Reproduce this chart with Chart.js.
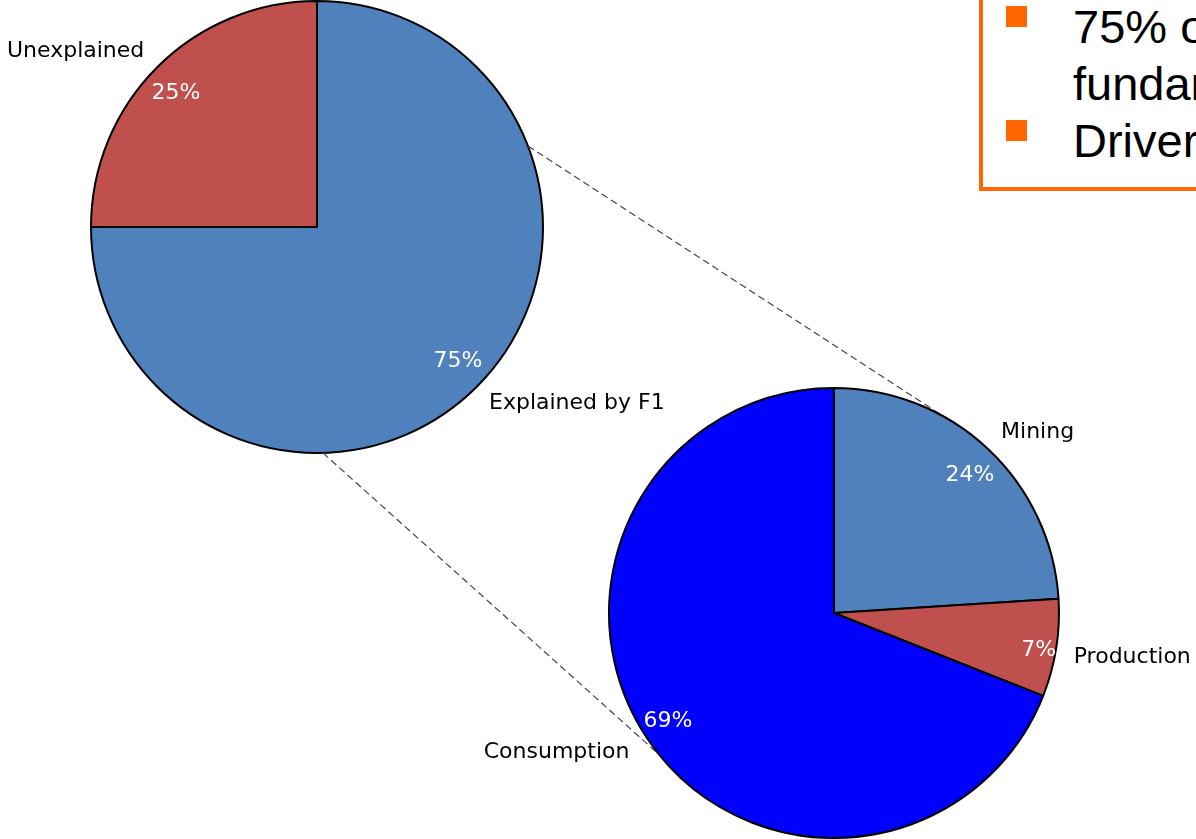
<!DOCTYPE html>
<html>
<head>
<meta charset="utf-8">
<script src="https://cdn.jsdelivr.net/npm/chart.js@4.4.0/dist/chart.umd.min.js"></script>
<style>
  html, body { margin: 0; padding: 0; background: #fff; }
  body { width: 1196px; height: 839px; overflow: hidden; position: relative; }
  canvas { position: absolute; left: 0; top: 0; }
  #note {
    position: absolute; left: 979px; top: -20px;
    width: 400px; height: 189px; padding-top: 14px;
    border: 4px solid #ff6600; background: #fff;
    font-family: "Liberation Sans", Arial, sans-serif; font-size: 47px;
    line-height: 57px; color: #000; white-space: nowrap;
  }
  #note .line { position: relative; padding-left: 90px; }
  #note .bullet { position: absolute; left: 23px; top: 8px; width: 21px; height: 21px; background: #ff6600; }
</style>
</head>
<body>
<canvas id="overviewChart" width="1196" height="839"></canvas>
<canvas id="breakdownChart" width="1196" height="839"></canvas>
<div id="note">
  <div class="line"><span class="bullet"></span>75% of price variation</div>
  <div class="line">fundamentals</div>
  <div class="line"><span class="bullet"></span>Drivers</div>
</div>
<script>
// Data
const overviewLabels = ["Explained by F1", "Unexplained"];
const overviewValues = [75, 25];
const breakdownLabels = ["Mining", "Production", "Consumption"];
const breakdownValues = [24, 7, 69];

const steelBlue = "#4f81bd";
const brickRed = "#c0504d";
const pureBlue = "#0000ff";
const labelFont = '22px "DejaVu Sans", sans-serif';

// label spots: [angle in degrees from 3 o'clock, fraction of radius]
const overviewPctSpots = [[43.5, 0.86], [-136.5, 0.86]];
const overviewNameSpots = [[34.2, 1.39], [-144, 1.32]];
const breakdownPctSpots = [[-45.4, 0.86], [10.4, 0.925], [147, 0.88]];
const breakdownNameSpots = [[-41.6, 1.21], [8.4, 1.34], [153.3, 1.38]];

function spot(arc, s) {
  const a = (s[0] * Math.PI) / 180;
  return { x: arc.x + Math.cos(a) * arc.outerRadius * s[1], y: arc.y + Math.sin(a) * arc.outerRadius * s[1] };
}

function labelPlugin(pctSpots, nameSpots) {
  return {
    id: "sliceLabels",
    afterDatasetsDraw(chart) {
      const ctx = chart.ctx;
      const values = chart.data.datasets[0].data;
      const total = values.reduce((a, b) => a + b, 0);
      const arcs = chart.getDatasetMeta(0).data;
      ctx.save();
      ctx.font = labelFont;
      ctx.textAlign = "center";
      ctx.textBaseline = "middle";
      arcs.forEach((arc, i) => {
        let p = spot(arc, pctSpots[i]);
        ctx.fillStyle = "#fff";
        ctx.fillText(Math.round((values[i] / total) * 100) + "%", p.x, p.y);
        p = spot(arc, nameSpots[i]);
        ctx.fillStyle = "#000";
        ctx.fillText(chart.data.labels[i], p.x, p.y);
      });
      ctx.restore();
    },
  };
}

function pieOptions(padding) {
  return {
    responsive: false,
    animation: false,
    devicePixelRatio: 1,
    layout: { padding: padding },
    plugins: { legend: { display: false }, tooltip: { enabled: false } },
  };
}

// Top-left pie
const overviewChart = new Chart(document.getElementById("overviewChart"), {
  type: "pie",
  data: {
    labels: overviewLabels,
    datasets: [{
      data: overviewValues,
      backgroundColor: [steelBlue, brickRed],
      borderColor: "#000",
      borderWidth: 2,
    }],
  },
  options: pieOptions({ left: 90, right: 652, top: 0, bottom: 385 }),
  plugins: [labelPlugin(overviewPctSpots, overviewNameSpots)],
});

// dashed connectors between the two pies
const connectorPlugin = {
  id: "connectors",
  beforeDatasetsDraw(chart) {
    const a = overviewChart.getDatasetMeta(0).data[0];
    const b = chart.getDatasetMeta(0).data[0];
    const pairs = [[-21, -61], [88.5, 141]];
    const ctx = chart.ctx;
    ctx.save();
    ctx.strokeStyle = "#444";
    ctx.lineWidth = 1.2;
    ctx.setLineDash([7, 4]);
    pairs.forEach(([fromDeg, toDeg]) => {
      const p = spot(a, [fromDeg, 1]);
      const q = spot(b, [toDeg, 1]);
      ctx.beginPath();
      ctx.moveTo(p.x, p.y);
      ctx.lineTo(q.x, q.y);
      ctx.stroke();
    });
    ctx.restore();
  },
};

// Bottom-right pie
new Chart(document.getElementById("breakdownChart"), {
  type: "pie",
  data: {
    labels: breakdownLabels,
    datasets: [{
      data: breakdownValues,
      backgroundColor: [steelBlue, brickRed, pureBlue],
      borderColor: "#000",
      borderWidth: 2,
    }],
  },
  options: pieOptions({ left: 606, right: 134, top: 387, bottom: -2 }),
  plugins: [connectorPlugin, labelPlugin(breakdownPctSpots, breakdownNameSpots)],
});
</script>
</body>
</html>
